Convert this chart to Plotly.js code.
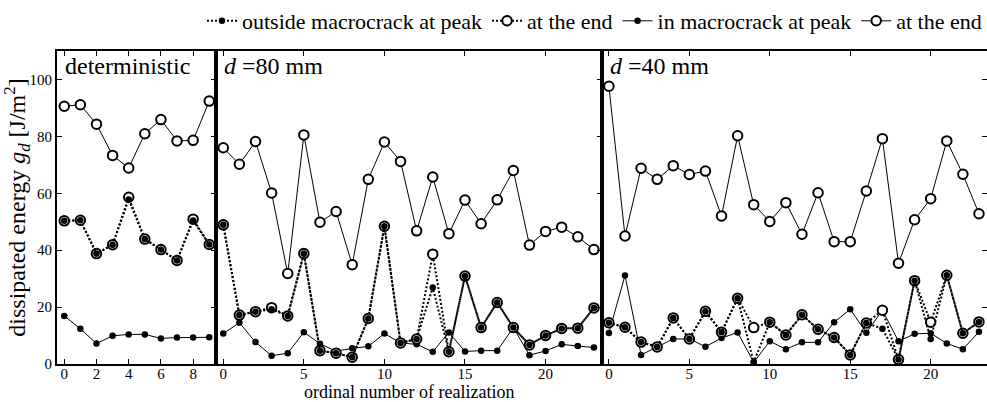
<!DOCTYPE html>
<html>
<head>
<meta charset="utf-8">
<script src="https://cdn.plot.ly/plotly-3.0.1.min.js"></script>
<style>html,body{margin:0;padding:0;background:#fff;}#chart{width:987px;height:402px;}</style>
</head>
<body>
<div id="chart"></div>
<script>
// ---- data ----
const legendNames = ['outside macrocrack at peak', 'at the end', 'in macrocrack at peak', 'at the end'];
const panelLabels = ['deterministic', '<i>d</i> =80 mm', '<i>d</i> =40 mm'];
const xTitle = 'ordinal number of realization';
const yTitle = 'dissipated energy <i>g<sub>d</sub></i> [J/m<sup>2</sup>]';

// deterministic
const real1 = [0, 1, 2, 3, 4, 5, 6, 7, 8, 9];
const peakOut1 = [50.3, 50.5, 38.8, 41.9, 57.8, 43.9, 40.2, 36.4, 50.4, 42.0];
const endOut1  = [50.3, 50.5, 38.8, 41.9, 58.6, 43.9, 40.2, 36.4, 50.9, 42.0];
const peakIn1  = [16.9, 12.4, 7.2, 9.9, 10.4, 10.4, 9.0, 9.3, 9.3, 9.4];
const endIn1   = [90.6, 91.1, 84.3, 73.3, 68.9, 80.9, 85.9, 78.4, 78.6, 92.4];

// d = 80 mm
const real2 = [0, 1, 2, 3, 4, 5, 6, 7, 8, 9, 10, 11, 12, 13, 14, 15, 16, 17, 18, 19, 20, 21, 22, 23];
const peakOut2 = [48.9, 17.2, 18.4, 19.2, 16.9, 38.8, 4.7, 3.8, 2.4, 16.0, 48.4, 7.4, 8.8, 26.9, 4.3, 30.9, 12.8, 21.6, 12.8, 6.7, 10.0, 12.5, 12.6, 19.7];
const endOut2  = [48.9, 17.2, 18.4, 19.8, 16.9, 38.8, 4.7, 3.8, 2.4, 16.0, 48.4, 7.4, 8.8, 38.6, 4.3, 30.9, 12.8, 21.6, 12.8, 6.7, 10.0, 12.5, 12.6, 19.7];
const peakIn2  = [10.7, 14.5, 7.7, 2.9, 3.8, 11.2, 7.1, 4.5, 5.5, 6.2, 10.7, 7.4, 6.9, 4.3, 11.1, 4.4, 4.7, 4.7, 12.8, 3.1, 4.6, 6.9, 6.3, 5.8];
const endIn2   = [76.0, 70.2, 78.2, 60.1, 31.8, 80.5, 49.8, 53.6, 34.9, 64.9, 78.0, 71.2, 46.8, 65.7, 45.8, 57.6, 49.3, 57.7, 68.0, 41.8, 46.6, 48.1, 44.7, 40.2];

// d = 40 mm
const real3 = [0, 1, 2, 3, 4, 5, 6, 7, 8, 9, 10, 11, 12, 13, 14, 15, 16, 17, 18, 19, 20, 21, 22, 23];
const peakOut3 = [14.5, 12.9, 7.7, 6.0, 16.2, 8.8, 18.5, 11.2, 23.1, 0.6, 14.7, 10.2, 17.3, 12.2, 9.3, 3.2, 14.4, 12.4, 1.6, 29.3, 8.8, 31.2, 10.8, 14.8];
const endOut3  = [14.5, 12.9, 7.7, 6.0, 16.2, 8.8, 18.5, 11.2, 23.1, 12.8, 14.7, 10.2, 17.3, 12.2, 9.3, 3.2, 14.4, 18.9, 1.6, 29.3, 14.7, 31.2, 10.8, 14.8];
const peakIn3  = [10.9, 31.1, 3.2, 6.0, 8.8, 8.8, 6.1, 9.1, 11.1, 0.6, 8.0, 5.2, 7.6, 7.6, 14.7, 19.2, 11.0, 18.9, 8.0, 10.6, 10.8, 7.2, 5.2, 11.3];
const endIn3   = [97.6, 45.0, 68.8, 64.9, 69.7, 66.6, 67.8, 52.0, 80.2, 56.0, 50.1, 56.7, 45.6, 60.2, 43.0, 43.0, 60.8, 79.2, 35.4, 50.7, 58.1, 78.4, 66.7, 52.8];

const xTicks1 = [0, 2, 4, 6, 8];
const xTicks23 = [0, 5, 10, 15, 20];
const yTicks = [0, 20, 40, 60, 80, 100];

// ---- styling ----
const FONT = '"Liberation Serif", "Times New Roman", serif';
const dotDash = '2px,2px';
const smallDot = {symbol: 'circle', size: 6.5, color: 'black', line: {width: 0}};
const ringDot = {symbol: 'circle', size: 9.5, color: 'white', line: {color: 'black', width: 2}};

function panelTraces(xa, ya, xs, pOut, eOut, pIn, eIn, showLeg) {
  const common = {x: xs, xaxis: xa, yaxis: ya, mode: 'lines+markers', cliponaxis: false, hoverinfo: 'skip'};
  return [
    Object.assign({}, common, {y: pIn, name: legendNames[2], legendrank: 3, showlegend: showLeg,
      line: {color: 'black', width: 1}, marker: smallDot}),
    Object.assign({}, common, {y: eIn, name: legendNames[3], legendrank: 4, showlegend: showLeg,
      line: {color: 'black', width: 1}, marker: ringDot}),
    Object.assign({}, common, {y: eOut, name: legendNames[1], legendrank: 2, showlegend: showLeg,
      line: {color: 'black', width: 2, dash: dotDash}, marker: ringDot}),
    Object.assign({}, common, {y: pOut, name: legendNames[0], legendrank: 1, showlegend: showLeg,
      line: {color: 'black', width: 2, dash: dotDash}, marker: smallDot})
  ];
}

const data = [].concat(
  panelTraces('x', 'y', real1, peakOut1, endOut1, peakIn1, endIn1, true),
  panelTraces('x2', 'y2', real2, peakOut2, endOut2, peakIn2, endIn2, false),
  panelTraces('x3', 'y3', real3, peakOut3, endOut3, peakIn3, endIn3, false)
);

const tickFont = {family: FONT, size: 15, color: 'black'};
const baseX = {showline: true, linecolor: 'black', linewidth: 2, mirror: 'ticks', ticks: 'inside',
  ticklen: 5, tickwidth: 1, tickcolor: 'black', showgrid: false, zeroline: false, tickfont: tickFont};
const baseY = Object.assign({}, baseX, {range: [0, 110], tickvals: yTicks});

const d1 = 0.1715, d2 = 0.586;
const layout = {
  width: 987, height: 402,
  margin: {l: 57, r: 0, t: 33, b: 38},
  paper_bgcolor: 'white', plot_bgcolor: 'white',
  font: {family: FONT, color: 'black'},
  showlegend: true,
  legend: {orientation: 'h', x: 1, xanchor: 'right', y: 1.03, yanchor: 'bottom',
    font: {family: FONT, size: 22, color: 'black'}, itemwidth: 30, traceorder: 'normal',
    bgcolor: 'rgba(0,0,0,0)'},
  xaxis: Object.assign({}, baseX, {domain: [0, d1], range: [-0.45, 9.45], tickvals: xTicks1, anchor: 'y',
    ticklabelstandoff: -5}),
  xaxis2: Object.assign({}, baseX, {domain: [d1, d2], range: [-0.42, 23.5], tickvals: xTicks23, anchor: 'y2',
    ticklabelstandoff: -5,
    title: {text: xTitle, font: {family: FONT, size: 18, color: 'black'}, standoff: 5}}),
  xaxis3: Object.assign({}, baseX, {domain: [d2, 1], range: [-0.43, 23.5], tickvals: xTicks23, anchor: 'y3',
    ticklabelstandoff: -5}),
  yaxis: Object.assign({}, baseY, {anchor: 'x',
    title: {text: yTitle, font: {family: FONT, size: 24, color: 'black'}, standoff: 2}}),
  yaxis2: Object.assign({}, baseY, {anchor: 'x2', matches: 'y', side: 'right', showticklabels: false, mirror: true}),
  yaxis3: Object.assign({}, baseY, {anchor: 'x3', matches: 'y', side: 'right', showticklabels: false, mirror: true}),
  annotations: [
    {xref: 'x domain', yref: 'y domain', x: 0.04, y: 1.0, xanchor: 'left', yanchor: 'top', showarrow: false,
      text: panelLabels[0], font: {family: FONT, size: 24, color: 'black'}},
    {xref: 'x2 domain', yref: 'y2 domain', x: 0.015, y: 1.0, xanchor: 'left', yanchor: 'top', showarrow: false,
      text: panelLabels[1], font: {family: FONT, size: 24, color: 'black'}},
    {xref: 'x3 domain', yref: 'y3 domain', x: 0.015, y: 1.0, xanchor: 'left', yanchor: 'top', showarrow: false,
      text: panelLabels[2], font: {family: FONT, size: 24, color: 'black'}}
  ]
};

Plotly.newPlot('chart', data, layout, {displayModeBar: false, staticPlot: true});
</script>
</body>
</html>
